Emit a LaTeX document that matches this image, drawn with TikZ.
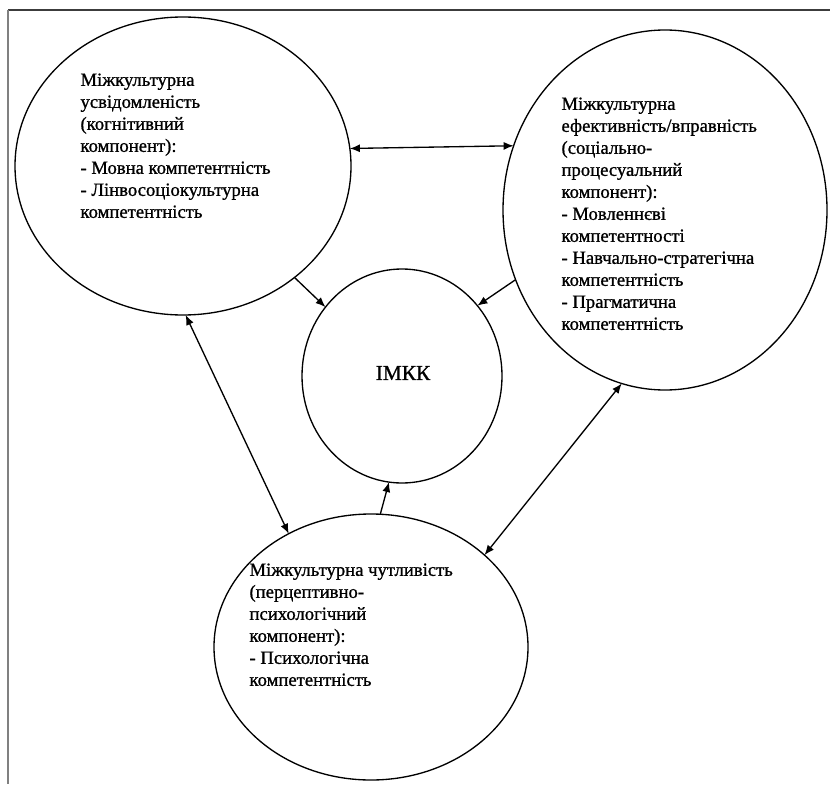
\documentclass[tikz,border=0pt]{standalone}
\usepackage{fontspec}
\setmainfont{Liberation Serif}
\newfontfamily\scanfont[FakeBold=1]{Liberation Serif}
\usetikzlibrary{shapes.geometric,arrows.meta}

\tikzset{every picture/.style={line width=0.75pt}}
\tikzset{
  oval/.style={draw, ellipse, line width=1pt, inner sep=0pt, outer sep=0pt},
  comptext/.style={align=left, anchor=north west, inner sep=0pt, font=\scanfont\fontsize{14}{16.5}\selectfont},
  link/.style={line width=1pt, -{Latex[length=7.5pt,width=6pt]}},
  twolink/.style={line width=1pt, {Latex[length=7.5pt,width=6pt]}-{Latex[length=7.5pt,width=6pt]}}
}

\begin{document}
\begin{tikzpicture}[x=0.75pt,y=0.75pt,yscale=-1,xscale=1]
	\useasboundingbox (0,0) rectangle (830,784);

	%Frame lines
	\draw [line width=1.1pt, draw={rgb, 255:red, 60; green, 60; blue, 60 }] (8,10) -- (830,10) ;
	\draw [line width=1.5pt, draw={rgb, 255:red, 128; green, 128; blue, 128 }] (8,10) -- (8,784) ;

	%Ellipses
	\node [oval, minimum width=252pt, minimum height=223.5pt] (usv) at (183,166) {};
	\node [oval, minimum width=243pt, minimum height=270pt] (efekt) at (665,210) {};
	\node [oval, minimum width=150pt, minimum height=160.5pt] (imkk) at (402,376) {};
	\node [oval, minimum width=235.5pt, minimum height=199.5pt] (chutl) at (371,647) {};

	% Text Node
	\node [comptext] (usvtxt) at (80,73) {Міжкультурна\\усвідомленість\\(когнітивний\\компонент):\\- Мовна компетентність\\- Лінвосоціокультурна\\компетентність};
	% Text Node
	\node [comptext] (efekttxt) at (561,97) {Міжкультурна\\ефективність/вправність\\(соціально-\\процесуальний\\компонент):\\- Мовленнєві\\компетентності\\- Навчально-стратегічна\\компетентність\\- Прагматична\\компетентність};
	% Text Node
	\node [comptext] (chutltxt) at (249,563) {Міжкультурна чутливість\\(перцептивно-\\психологічний\\компонент):\\- Психологічна\\компетентність};
	% Text Node
	\node [font=\scanfont\fontsize{16}{19}\selectfont] (imkktxt) at (403,373) {ІМКК};

	%Connectors
	\draw [twolink] (usv.6.4) -- (efekt.157.9) ;
	\draw [link] (usv.-45.5) -- (imkk.138.1) ;
	\draw [link] (efekt.205.8) -- (imkk.43.9) ;
	\draw [link] (chutl.86.2) -- (imkk.263.1) ;
	\draw [twolink] (usv.271.9) -- (chutl.126) ;
	\draw [twolink] (efekt.256.9) -- (chutl.39.4) ;

\end{tikzpicture}
\end{document}
